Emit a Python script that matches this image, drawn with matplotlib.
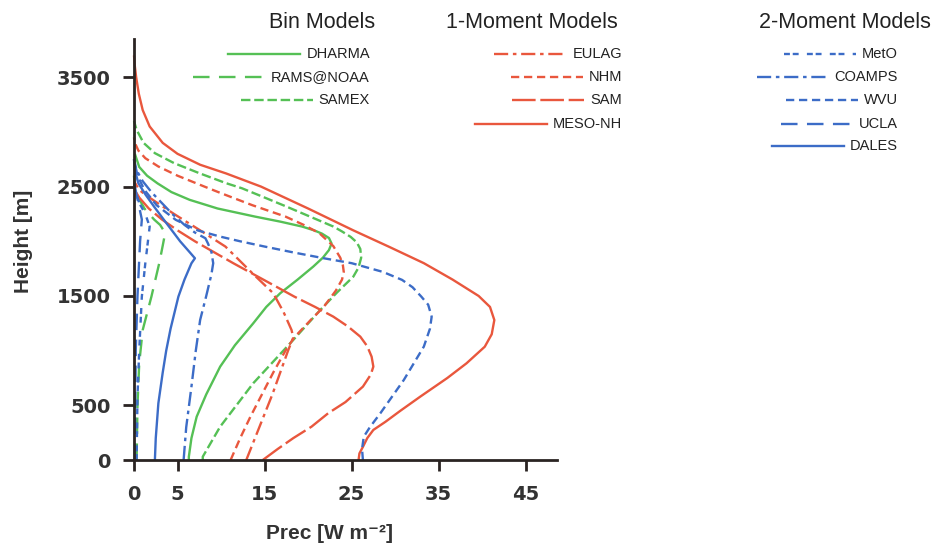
import matplotlib
matplotlib.use("Agg")
import matplotlib.pyplot as plt
from matplotlib.lines import Line2D

plt.rcParams['font.family'] = ['Liberation Sans', 'DejaVu Sans']

# ---- data (height [m], precipitation flux [W m-2]) ----
# Bin models
dharma_z = [0, 30, 200, 396, 600, 854, 1050, 1250, 1400, 1525, 1650, 1769, 1850, 1920, 1980,
            2030, 2070, 2100, 2135, 2180, 2226, 2300, 2379, 2450, 2530, 2600, 2680, 2800]
dharma_prec = [6.3, 6.3, 6.6, 7.2, 8.3, 9.9, 11.6, 13.7, 15.2, 16.8, 18.8, 20.6, 21.7, 22.4, 22.7,
               22.4, 21.6, 20.7, 19.3, 16.8, 13.9, 9.6, 6.4, 4.3, 2.7, 1.5, 0.6, 0.1]

rams_z = [0, 500, 884, 1189, 1494, 1800, 1960, 2043, 2100, 2150, 2200, 2300, 2400, 2500, 2600]
rams_prec = [0.3, 0.4, 0.6, 1.0, 2.0, 2.9, 3.3, 3.5, 3.4, 3.0, 2.3, 1.2, 0.5, 0.1, 0.0]

samex_z = [0, 30, 305, 702, 1098, 1372, 1530, 1677, 1760, 1850, 1930, 1990, 2040, 2090, 2135,
           2230, 2318, 2420, 2485, 2531, 2623, 2715, 2806, 2900, 3019, 3100]
samex_prec = [7.9, 7.9, 9.9, 13.7, 18.3, 21.4, 23.3, 25.2, 25.8, 26.1, 26.0, 25.6, 24.9, 23.9, 22.9,
              20.1, 17.5, 14.4, 12.4, 10.6, 7.5, 4.6, 2.4, 1.1, 0.3, 0.0]

# 1-moment models
eulag_z = [0, 200, 400, 600, 800, 1000, 1120, 1189, 1350, 1525, 1700, 1850, 1952, 2100,
           2250, 2350, 2420, 2470, 2550]
eulag_prec = [12.9, 13.9, 14.9, 15.9, 16.8, 17.7, 18.3, 18.1, 17.2, 16.0, 13.7, 11.8, 10.5, 7.6,
              4.6, 2.7, 1.4, 0.6, 0.0]

nhm_z = [0, 200, 400, 600, 800, 1000, 1120, 1280, 1400, 1550, 1650, 1720, 1780, 1850, 1956,
         2074, 2150, 2226, 2330, 2440, 2500, 2600, 2684, 2760, 2830, 2900, 2950]
nhm_prec = [11.1, 12.2, 13.4, 14.7, 16.0, 17.4, 18.4, 20.3, 21.8, 23.2, 23.9, 24.1, 24.0, 23.7, 22.9,
            21.3, 19.5, 17.4, 13.6, 10.0, 8.1, 5.0, 2.8, 1.3, 0.5, 0.1, 0.0]

sam_z = [0, 100, 200, 305, 427, 530, 671, 780, 854, 945, 1040, 1128, 1220, 1311, 1400,
         1495, 1600, 1700, 1800, 1900, 2000, 2100, 2200, 2300, 2400, 2480]
sam_prec = [14.8, 16.5, 18.3, 20.4, 22.3, 24.3, 26.3, 27.2, 27.5, 27.3, 26.8, 26.0, 24.6, 22.9, 20.8,
            18.4, 16.0, 13.7, 11.4, 9.2, 7.0, 5.0, 3.2, 1.7, 0.6, 0.0]

mesonh_z = [0, 60, 120, 200, 275, 350, 450, 580, 750, 884, 1036, 1150, 1280, 1400, 1500,
            1650, 1800, 1950, 2100, 2300, 2500, 2620, 2700, 2800, 2900, 3050, 3200, 3350,
            3500, 3600, 3700]
mesonh_prec = [25.8, 25.9, 26.3, 26.8, 27.5, 28.9, 30.6, 32.9, 36.0, 38.2, 40.3, 41.1, 41.4, 40.9, 39.6,
               36.6, 33.3, 29.3, 25.2, 20.0, 14.6, 10.6, 7.6, 5.0, 3.3, 1.8, 1.0, 0.55,
               0.25, 0.1, 0.0]

# 2-moment models
meto_z = [0, 580, 1000, 1494, 1800, 2000, 2135, 2250, 2350, 2450, 2550]
meto_prec = [0.3, 0.4, 0.6, 0.9, 1.3, 1.6, 1.8, 1.3, 0.6, 0.2, 0.0]

coamps_z = [0, 300, 671, 1000, 1281, 1500, 1700, 1800, 1900, 1980, 2028, 2080, 2150, 2250, 2350,
            2450, 2550, 2650, 2750]
coamps_prec = [5.7, 6.0, 6.6, 7.1, 7.6, 8.3, 8.9, 9.1, 8.9, 8.5, 8.2, 7.0, 5.8, 4.4, 3.2,
               2.0, 1.0, 0.3, 0.0]

wvu_z = [0, 100, 213, 300, 427, 732, 1037, 1200, 1311, 1420, 1495, 1580, 1647, 1720, 1800, 1845,
         1900, 1952, 2000, 2043, 2100, 2196, 2330, 2470, 2600, 2750]
wvu_prec = [26.3, 26.2, 26.4, 27.1, 28.3, 31.0, 33.3, 34.0, 34.2, 33.8, 33.0, 32.0, 30.8, 28.6, 25.0, 21.8,
            18.2, 15.0, 12.2, 9.9, 7.3, 4.8, 2.6, 1.2, 0.4, 0.0]

ucla_z = [0, 1000, 1500, 2000, 2200, 2350, 2500, 2600]
ucla_prec = [0.1, 0.2, 0.4, 0.7, 0.9, 0.5, 0.1, 0.0]

dales_z = [0, 200, 519, 800, 1000, 1200, 1494, 1650, 1799, 1845, 1900, 2000, 2074, 2200,
           2318, 2430, 2531, 2650, 2750]
dales_prec = [2.4, 2.5, 2.8, 3.3, 3.7, 4.2, 5.1, 5.8, 6.6, 7.0, 6.4, 5.3, 4.6, 3.4,
              2.3, 1.3, 0.5, 0.1, 0.0]

group_titles = ['Bin Models', '1-Moment Models', '2-Moment Models']
bin_names = ['DHARMA', 'RAMS@NOAA', 'SAMEX']
one_names = ['EULAG', 'NHM', 'SAM', 'MESO-NH']
two_names = ['MetO', 'COAMPS', 'WVU', 'UCLA', 'DALES']

xticks = [0, 5, 15, 25, 35, 45]
yticks = [0, 500, 1500, 2500, 3500]

# ---- styles ----
GREEN = '#55c055'
RED = '#e9573d'
BLUE = '#3c6cc7'
LW = 1.7

bin_styles = ['-', (0, (7, 4)), (0, (4, 1.6))]
one_styles = [(0, (6, 2, 1.5, 2)), (0, (3.5, 2)), (0, (10, 2)), '-']
two_styles = [(0, (2.5, 1.2, 2.5, 3.5)), (0, (6, 2, 1.5, 2)), (0, (3.5, 2)), (0, (7, 4)), '-']

bin_data = [(dharma_prec, dharma_z), (rams_prec, rams_z), (samex_prec, samex_z)]
one_data = [(eulag_prec, eulag_z), (nhm_prec, nhm_z), (sam_prec, sam_z), (mesonh_prec, mesonh_z)]
two_data = [(meto_prec, meto_z), (coamps_prec, coamps_z), (wvu_prec, wvu_z),
            (ucla_prec, ucla_z), (dales_prec, dales_z)]

W, H = 941, 549
fig = plt.figure(figsize=(W / 100, H / 100), dpi=100)
ax = fig.add_axes([134 / W, 1 - 460 / H, (557 - 134) / W, (460 - 39) / H])

groups = [(bin_names, bin_data, bin_styles, GREEN),
          (one_names, one_data, one_styles, RED),
          (two_names, two_data, two_styles, BLUE)]

for names, data, styles, color in groups:
    for name, (x, z), ls in zip(names, data, styles):
        ax.plot(x, z, color=color, lw=LW, linestyle=ls, solid_capstyle='butt',
                solid_joinstyle='round', clip_on=False)

ax.set_xlim(0, 48.6)
ax.set_ylim(0, 3850)
ax.set_xticks(xticks)
ax.set_yticks(yticks)
for s in ['top', 'right']:
    ax.spines[s].set_visible(False)
for s in ['left', 'bottom']:
    ax.spines[s].set_linewidth(2.0)
    ax.spines[s].set_color('#2a2422')
    ax.spines[s].set_zorder(5)
ax.tick_params(axis='both', direction='out', length=8, width=2.0, color='#2a2422',
               labelsize=14, labelcolor='#333333')
ax.tick_params(axis='x', pad=10)
ax.tick_params(axis='y', pad=9)
for lab in ax.get_xticklabels() + ax.get_yticklabels():
    lab.set_fontweight('bold')
    lab.set_family(['DejaVu Sans'])

ax.set_ylabel('Height [m]', fontsize=15, fontweight='bold', color='#333333')
ax.yaxis.set_label_coords(-0.238, 0.52)
ax.set_xlabel('Prec [W m⁻²]', fontsize=15, fontweight='bold', color='#333333')
ax.xaxis.set_label_coords(0.463, -0.152)

# ---- legend: three groups, labels right-aligned with line samples on the left ----
title_x = [322, 532, 845]
label_right = [370, 622, 898]
title_y = 22
row_y = [54, 77, 100, 124, 146]
line_len = 72
gap = 6

entries = []
for gi, (names, data, styles, color) in enumerate(groups):
    fig.text(title_x[gi] / W, 1 - title_y / H, group_titles[gi], fontsize=15.5,
             ha='center', va='center', color='#222222')
    for i, (name, ls) in enumerate(zip(names, styles)):
        t = fig.text(label_right[gi] / W, 1 - row_y[i] / H, name,
                     fontsize=10.5, ha='right', va='center', color='#222222')
        entries.append((t, ls, color))

fig.canvas.draw()
renderer = fig.canvas.get_renderer()
for t, ls, color in entries:
    bb = t.get_window_extent(renderer)
    ymid = (bb.y0 + bb.y1) / 2 / H
    x1 = (bb.x0 - gap) / W
    x0 = (bb.x0 - gap - line_len) / W
    fig.add_artist(Line2D([x0, x1], [ymid, ymid], transform=fig.transFigure,
                          color=color, lw=LW, linestyle=ls))

fig.savefig('out.png', dpi=100)
